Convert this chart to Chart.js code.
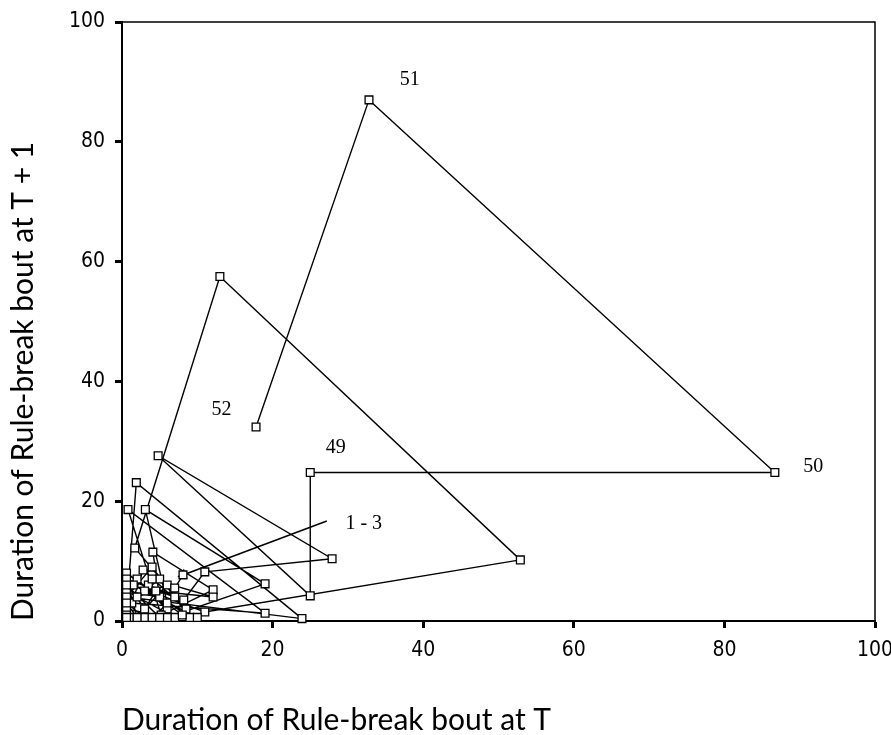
<!DOCTYPE html>
<html>
<head>
<meta charset="utf-8">
<script src="https://cdn.jsdelivr.net/npm/chart.js@4"></script>
<style>
  body { margin: 0; background: #fff; }
  #wrap { width: 891px; height: 735px; position: relative; }
</style>
</head>
<body>
<div id="wrap"><canvas id="myChart"></canvas></div>
<script>
// duration of bout at T (x) and at T + 1 (y), in plotting order
const boutT = [17.8, 32.8, 86.7, 25, 25, 4.8, 27.9, 11, 8.2, 3.5, 6, 2, 7, 0.6, 5, 4.1, 12.1, 5.2,
  0.8, 19, 1.3, 2.8, 8.5, 1.7, 13, 52.9, 11, 1.5, 6, 3.1, 19, 6, 0.6, 1.9, 23.9, 0.6, 4, 9,
  0.6, 8, 1, 0.6, 3, 0.6, 2, 0.6, 7, 4, 0.6, 5, 0.6, 10, 3, 5, 2, 6, 3, 4.5, 12.1, 4, 7, 8.1];
const boutT1 = [32.4, 87, 24.8, 24.8, 4.2, 27.6, 10.4, 8.2, 3.5, 6, 2, 7, 0.6, 5, 4, 11.5, 5.2, 1,
  18.6, 1.3, 3, 8.5, 2, 12.2, 57.5, 10.2, 1.5, 6, 3, 18.6, 6.2, 0.6, 2, 23.1, 0.4, 4, 9, 0.6,
  8, 1, 0.6, 1, 0.6, 3, 0.6, 7, 4, 0.6, 6, 0.6, 0.6, 0.6, 5, 7, 4, 6, 2, 5, 4, 7, 5.5, 7.7];

// annotation labels
const noteText = ['51', '50', '49', '52', '1 - 3'];
const noteX = [38.2, 91.8, 28.4, 13.2, 32.1];
const noteY = [90.3, 25.8, 28.9, 35.3, 16.2];

// leader line of the "1 - 3" label
const pointerX = [8.1, 27.2];
const pointerY = [7.7, 16.7];

const axisTicks = [0, 20, 40, 60, 80, 100];

const points = boutT.map((x, i) => ({ x: x, y: boutT1[i] }));
const pointer = pointerX.map((x, i) => ({ x: x, y: pointerY[i] }));

const tickFont = { family: "'Liberation Sans Narrow', 'DejaVu Sans Condensed', sans-serif", size: 21 };
const titleFont = { family: 'Lato, sans-serif', size: 30, lineHeight: 1 };

const frameAndNotes = {
  id: 'frameAndNotes',
  afterDatasetsDraw(chart) {
    const { ctx, chartArea: a, scales } = chart;
    ctx.save();
    ctx.strokeStyle = '#000';
    ctx.lineWidth = 1.5;
    ctx.beginPath();
    ctx.moveTo(a.left, a.top);
    ctx.lineTo(a.right, a.top);
    ctx.lineTo(a.right, a.bottom);
    ctx.stroke();
    ctx.fillStyle = '#000';
    ctx.font = "20px 'Liberation Serif', 'Times New Roman', serif";
    ctx.textAlign = 'center';
    ctx.textBaseline = 'middle';
    noteText.forEach((t, i) => {
      ctx.fillText(t, scales.x.getPixelForValue(noteX[i]), scales.y.getPixelForValue(noteY[i]));
    });
    ctx.restore();
  }
};

function axisOptions(title, fixSize) {
  return {
    type: 'linear',
    min: 0,
    max: 100,
    afterBuildTicks: scale => { scale.ticks = axisTicks.map(v => ({ value: v })); },
    afterFit: fixSize,
    grid: { display: true, drawOnChartArea: false, drawTicks: true, tickLength: 7, tickWidth: 3, tickColor: '#000' },
    border: { display: true, color: '#000', width: 2 },
    ticks: { color: '#000', font: tickFont, padding: 10, maxRotation: 0 },
    title: { display: true, text: title, align: 'start', color: '#000', font: titleFont, padding: { top: 8, bottom: 0 } }
  };
}

new Chart(document.getElementById('myChart'), {
  type: 'scatter',
  data: {
    datasets: [{
      data: points,
      showLine: true,
      borderColor: '#000',
      borderWidth: 1.4,
      pointStyle: 'rect',
      pointRadius: 5.5,
      pointBackgroundColor: '#fff',
      pointBorderColor: '#000',
      pointBorderWidth: 1.3,
      clip: false
    }, {
      data: pointer,
      showLine: true,
      borderColor: '#000',
      borderWidth: 1.6,
      pointStyle: 'triangle',
      pointRadius: [4.5, 0],
      pointRotation: 249,
      pointBackgroundColor: '#000',
      pointBorderColor: '#000',
      clip: false
    }]
  },
  options: {
    responsive: true,
    maintainAspectRatio: false,
    animation: false,
    layout: { padding: { top: 22, right: 16, left: 0, bottom: 0 } },
    scales: {
      x: axisOptions('Duration of Rule-break bout at T', s => {
        s.height = 114;
        s.paddingLeft = 0;
        s.paddingRight = 0;
      }),
      y: axisOptions('Duration of Rule-break bout at T + 1', s => {
        s.width = 122;
        s.paddingTop = 0;
        s.paddingBottom = 0;
      })
    },
    plugins: {
      legend: { display: false },
      tooltip: { enabled: false }
    }
  },
  plugins: [frameAndNotes]
});
</script>
</body>
</html>
